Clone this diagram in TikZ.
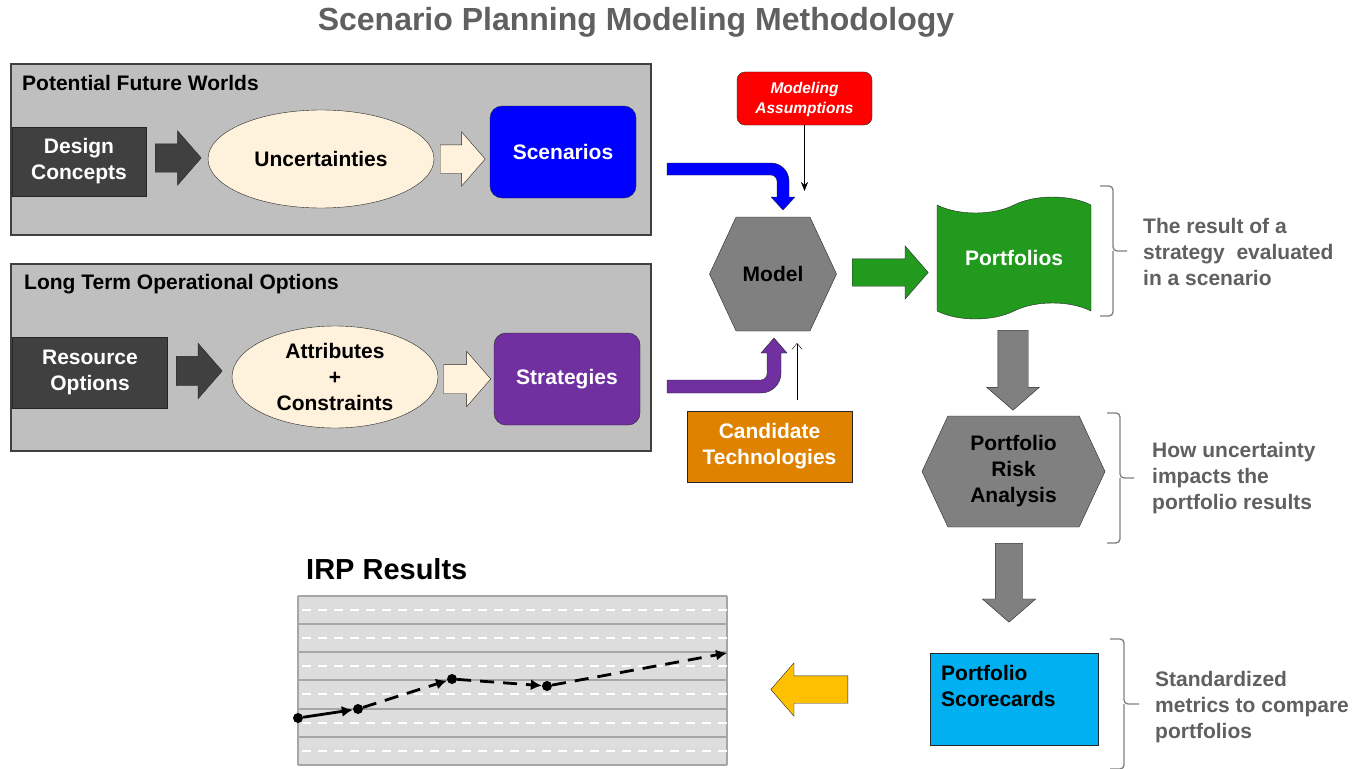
\documentclass[tikz,border=0pt]{standalone}
\usepackage{fontspec}
\setmainfont{Liberation Sans}
\usetikzlibrary{shapes.geometric,shapes.symbols,shapes.arrows,arrows.meta}

\definecolor{gristexte}{RGB}{96,96,96}
\definecolor{grisfond}{RGB}{191,191,191}
\definecolor{grisfonce}{RGB}{64,64,64}
\definecolor{gris}{RGB}{128,128,128}
\definecolor{creme}{RGB}{255,242,220}
\definecolor{bleu}{RGB}{0,0,255}
\definecolor{pourpre}{RGB}{112,48,160}
\definecolor{rouge}{RGB}{255,0,0}
\definecolor{orangec}{RGB}{222,130,0}
\definecolor{vert}{RGB}{33,154,30}
\definecolor{ciel}{RGB}{0,176,240}
\definecolor{jaune}{RGB}{255,192,0}
\definecolor{grisgraphe}{RGB}{221,221,221}
\definecolor{grisligne}{RGB}{166,166,166}

\begin{document}
\begin{tikzpicture}[x=1pt,y=-1pt]
      \tikzstyle{texte}=[font=\bfseries\fontsize{21}{26}\selectfont,align=center,inner sep=0pt]
      \tikzstyle{cadre}=[draw=grisfonce,fill=grisfond,line width=1.2pt]
      \tikzstyle{boite}=[texte,draw=black!85,thin,text=white]
      \tikzstyle{ovale}=[texte,ellipse,draw=black!85,thin,fill=creme]
      \tikzstyle{hexa}=[texte,signal,signal to=east and west,signal pointer angle=130,draw=black!85,thin,fill=gris]
      \tikzstyle{fleche}=[single arrow,draw=black!85,thin,inner xsep=0pt,anchor=tail,single arrow tip angle=98,single arrow head extend=13]
      \tikzstyle{bloc}=[draw=black!85,thin,line join=round]
      \tikzstyle{note}=[texte,text=gristexte,align=left,anchor=west]
      \tikzstyle{accolade}=[draw=gris,line width=1.3pt,rounded corners=4pt]
      \tikzstyle{point}=[circle,fill=black,inner sep=0pt,minimum size=10pt]
      \tikzstyle{courbe}=[line width=2.8pt,-{Latex[length=11pt,width=11pt]}]
      \useasboundingbox (0,0) rectangle (1354,768);
      \fill[white] (0,0) rectangle (1354,768);
      \node[font=\bfseries\fontsize{32}{36}\selectfont,text=gristexte] (titre) at (636,22) {Scenario Planning Modeling Methodology};
      % potential future worlds
      \draw[cadre] (11,64) rectangle (651,235);
      \node[texte,anchor=west] (mondes) at (22,83) {Potential Future Worlds};
      \node[boite,fill=grisfonce,minimum width=134,minimum height=69] (design) at (79,161.5) {Design\\Concepts};
      \node[fleche,fill=grisfonce,minimum height=46,inner ysep=14pt] (f1) at (155,158) {};
      \node[ovale,minimum width=226,minimum height=98] (incert) at (321,159) {Uncertainties};
      \node[fleche,fill=creme,minimum height=45,inner ysep=14pt] (f2) at (440,159) {};
      \node[boite,fill=bleu,rounded corners=12pt,minimum width=146,minimum height=92] (scen) at (563,152) {Scenarios};
      % long term options
      \draw[cadre] (11,264) rectangle (651,451);
      \node[texte,anchor=west] (options) at (24,284) {Long Term Operational Options};
      \node[boite,fill=grisfonce,minimum width=155,minimum height=71] (ressource) at (90,372.5) {Resource\\Options};
      \node[fleche,fill=grisfonce,minimum height=46,inner ysep=14.5pt] (f3) at (176,371) {};
      \node[ovale,minimum width=206,minimum height=102] (attrib) at (335,377) {Attributes\\+\\Constraints};
      \node[fleche,fill=creme,minimum height=47,inner ysep=14.5pt] (f4) at (443.5,379) {};
      \node[boite,fill=pourpre,rounded corners=12pt,minimum width=146,minimum height=92] (strat) at (567,379) {Strategies};
      % model
      \node[boite,fill=rouge,rounded corners=8pt,minimum width=135,minimum height=53,font=\bfseries\itshape\fontsize{15.5}{20}\selectfont] (hypo) at (804.5,98.5) {\strut Modeling\\Assumptions};
      \node[hexa,minimum width=127,minimum height=114] (model) at (773,274) {Model};
      \node[boite,fill=orangec,minimum width=165,minimum height=71] (candid) at (769.5,446.5) {Candidate\\Technologies};
      \coordinate (hypofin) at (804.5,191);
      \coordinate (candhaut) at (797,343);
      \coordinate (candbas) at (797,400);
      \draw[-{Stealth[length=9pt,width=7pt]},thin] (hypo) -- (hypofin);
      \draw[-{Straight Barb[length=6pt,width=10pt]},thin] (candbas) -- (candhaut);
      \draw[bloc,fill=bleu] (667,163) -- (771,163) .. controls (781,163) and (789,171) .. (789,181) -- (789,197) -- (795,197) -- (783,210) -- (771,197) -- (777,197) -- (777,181) .. controls (777,178) and (774,175) .. (771,175) -- (667,175) -- cycle;
      \draw[bloc,fill=pourpre] (667,380) -- (761,380) .. controls (764.3,380) and (767,377.3) .. (767,374) -- (767,353) -- (761,353) -- (774,338) -- (787,353) -- (781,353) -- (781,373) .. controls (781,384) and (772,393) .. (761,393) -- (667,393) -- cycle;
      \node[fleche,fill=vert,minimum height=76,inner ysep=13.5pt] (f5) at (852,272.5) {};
      % portfolios
      \node[texte,tape,draw=black!85,thin,fill=vert,text=white,minimum width=154,minimum height=122,tape bend height=16] (portf) at (1014,258) {Portfolios};
      \node[fleche,fill=gris,rotate=-90,minimum height=80,inner ysep=15pt,single arrow head extend=11] (f6) at (1013,330) {};
      \node[hexa,minimum width=183,minimum height=111] (risque) at (1013.5,471.5) {Portfolio\\Risk\\Analysis};
      \node[fleche,fill=gris,rotate=-90,minimum height=79,inner ysep=13.5pt] (f7) at (1009,543) {};
      \node[draw=black!85,thin,fill=ciel,minimum width=168,minimum height=92] (cartes) at (1014,699) {};
      \node[texte,anchor=west,align=left] (cartestexte) at (941,685.5) {Portfolio\\Scorecards};
      \node[fleche,fill=jaune,rotate=180,minimum height=77,inner ysep=13.5pt] (f8) at (848,689.5) {};
      % braces
      \draw[accolade] (1100,186) -| (1113,251) -- (1127,251);
      \draw[accolade] (1100,316) -| (1113,251);
      \draw[accolade] (1107,413) -| (1120,478) -- (1134,478);
      \draw[accolade] (1107,543) -| (1120,478);
      \draw[accolade] (1110,639) -| (1124,704) -- (1139,704);
      \draw[accolade] (1110,769) -| (1124,704);
      \node[note] (note1) at (1143,252) {The result of a\\strategy\ \ evaluated\\in a scenario};
      \node[note] (note2) at (1152,478) {How uncertainty\\impacts the\\portfolio results};
      \node[note] (note3) at (1155,707) {Standardized\\metrics to compare\\portfolios};
      % IRP results
      \node[anchor=west,inner sep=0pt,font=\bfseries\fontsize{29}{34}\selectfont] (irp) at (306,569) {IRP Results};
      \fill[grisgraphe] (298,596) rectangle (727,765);
      \foreach \y in {596,624,652,680,709,737,765}
        \draw[grisligne,line width=1.8pt] (298,\y) -- (727,\y);
      \draw[grisligne,line width=1.8pt] (298,596) -- (298,765);
      \draw[grisligne,line width=1.8pt] (727,596) -- (727,765);
      \foreach \y in {610,638,666,694,723,751}
        \draw[white,line width=1.6pt,dash pattern=on 9pt off 7pt] (302,\y) -- (727,\y);
      \node[point] (p0) at (298,718) {};
      \node[point] (p1) at (358,709) {};
      \node[point] (p2) at (452,679) {};
      \node[point] (p3) at (547,686) {};
      \coordinate (p4) at (727,653);
      \draw[courbe] (p0) -- (p1);
      \draw[courbe,dash pattern=on 14pt off 9pt] (p1) -- (p2);
      \draw[courbe,dash pattern=on 14pt off 9pt] (p2) -- (p3);
      \draw[courbe,dash pattern=on 14pt off 9pt] (p3) -- (p4);
\end{tikzpicture}
\end{document}
